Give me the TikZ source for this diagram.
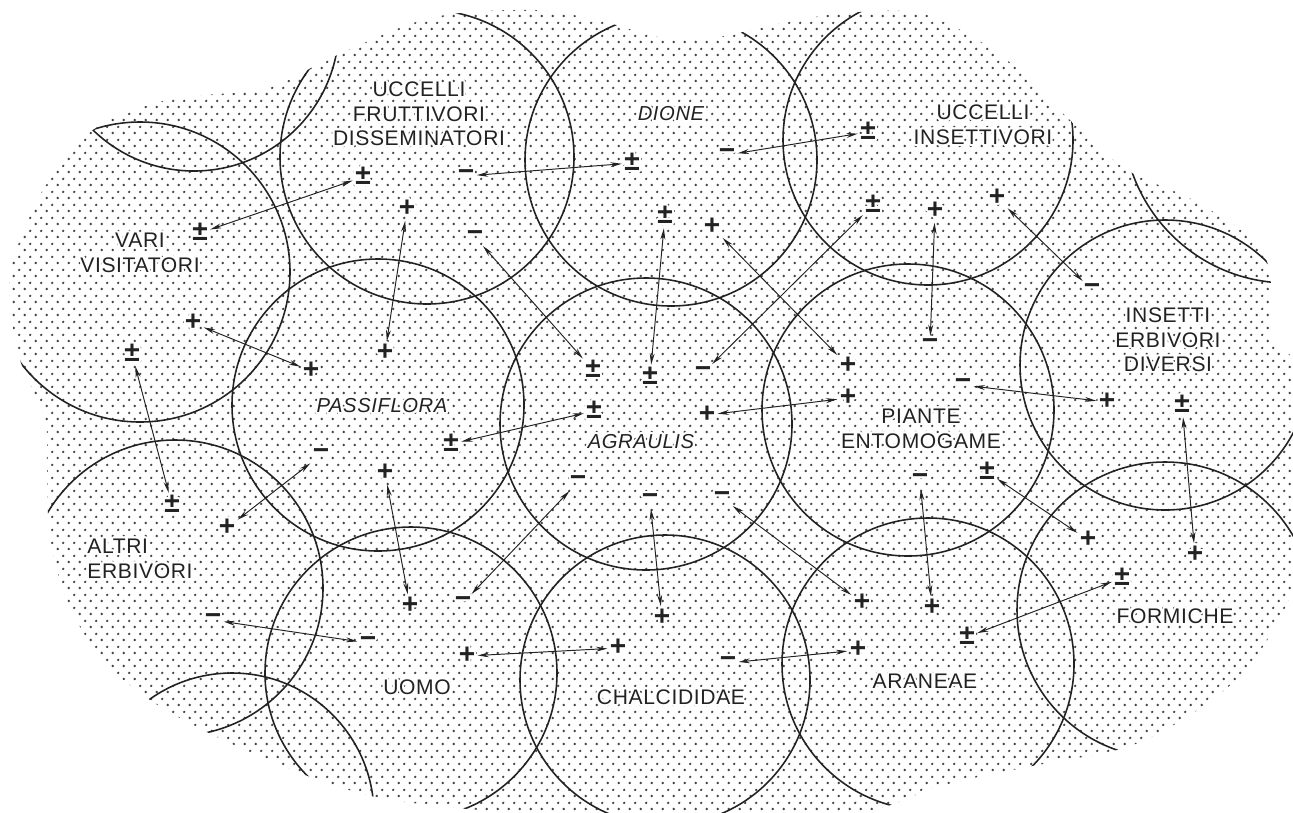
\documentclass[tikz,border=0pt]{standalone}
\usepackage{fontspec}
\setmainfont[LetterSpace=3]{Liberation Sans}
\newfontfamily\signfont{Liberation Sans}
\usepackage{contour}
\contourlength{1.2pt}
\contournumber{16}
\usepackage{tikz}
\usetikzlibrary{arrows.meta, patterns.meta}
\definecolor{ink}{HTML}{222222}
\definecolor{stip}{HTML}{444444}

% stippled ground: staggered rows of dots
\tikzdeclarepattern{
  name=stipple,
  type=uncolored,
  bottom left={(0pt,0pt)},
  top right={(6.24pt,7.14pt)},
  tile size={(6.24pt,7.14pt)},
  code={
    \pgfpathcircle{\pgfpoint{1.56pt}{1.785pt}}{0.76pt}
    \pgfpathcircle{\pgfpoint{4.68pt}{5.355pt}}{0.76pt}
    \pgfusepath{fill}
  }
}

\newcommand{\lbl}[1]{\contour{white}{#1}}
\newcommand{\sgp}{\contour{white}{+}}
\newcommand{\sgm}{\contour{white}{−}}
\newcommand{\sgb}{\contour{white}{±}}

% outline of the dotted region
\newcommand{\blob}{plot[smooth cycle, tension=0.55] coordinates {
  (13,260) (43,190) (93,130) (167,100) (267,88) (333,57) (430,18)
  (530,10) (597,20) (663,38) (713,38) (797,20) (860,12) (927,15)
  (1003,57) (1073,123) (1127,170) (1193,200) (1253,240) (1270,275)
  (1272,340) (1302,370) (1306,470) (1298,570) (1277,623) (1243,673)
  (1193,713) (1127,747) (1027,767) (940,786) (860,812) (700,816)
  (560,816) (430,805) (367,795) (300,773) (217,737) (150,700)
  (100,657) (67,600) (50,537) (47,470) (45,420) (20,360) (10,303)}}

\begin{document}
\begin{tikzpicture}[x=0.02cm, y=-0.02cm,
    ring/.style={ink, line width=0.9pt},
    link/.style={ink, line width=0.55pt, {Stealth[length=6.5pt,width=2.8pt]}-{Stealth[length=6.5pt,width=2.8pt]}},
    lab/.style={text=ink, align=center, inner sep=0pt, font=\fontsize{12}{14}\selectfont},
    labit/.style={lab, font=\fontsize{11.5}{14}\selectfont\itshape},
    sign/.style={text=ink, inner sep=1.2pt, font=\signfont\bfseries\fontsize{16}{16}\selectfont}]
  \useasboundingbox (0,0) rectangle (1293,812);
  \fill[pattern=stipple, pattern color=stip] \blob;

  % overlapping circles, cut off at the edge of the dots
  \begin{scope}
    \clip \blob;
    \foreach \cx/\cy/\r in {
      194/26/145, 140/272/150, 427/157/147, 671/160/146, 928/140/145,
      1288/118/165, 378/405/146, 646/424/146, 908/410/146, 1165/365/145,
      175/588/148, 411/673/146, 665/680/145, 928/664/146, 1165/610/148,
      232/815/142}{
      \draw[ring] (\cx,\cy) circle (\r);
    }
  \end{scope}

  % names of the partners
  \node[lab] (uccfrut) at (419,115) {\lbl{UCCELLI}\\\lbl{FRUTTIVORI}\\\lbl{DISSEMINATORI}};
  \node[labit] (dione) at (671,115) {\lbl{DIONE}};
  \node[lab] (uccins) at (983,126) {\lbl{UCCELLI}\\\lbl{INSETTIVORI}};
  \node[lab] (vari) at (140,254) {\lbl{VARI}\\\lbl{VISITATORI}};
  \node[labit] (passi) at (382,407) {\lbl{PASSIFLORA}};
  \node[labit] (agra) at (641,443) {\lbl{AGRAULIS}};
  \node[lab] (piante) at (921,430) {\lbl{PIANTE}\\\lbl{ENTOMOGAME}};
  \node[lab] (insetti) at (1168,341) {\lbl{INSETTI}\\\lbl{ERBIVORI}\\\lbl{DIVERSI}};
  \node[lab, align=left, anchor=west] (altri) at (87,560) {\lbl{ALTRI}\\\lbl{ERBIVORI}};
  \node[lab] (uomo) at (417,688) {\lbl{UOMO}};
  \node[lab] (chalc) at (671,698) {\lbl{CHALCIDIDAE}};
  \node[lab] (aran) at (925,682) {\lbl{ARANEAE}};
  \node[lab] (formi) at (1175,617) {\lbl{FORMICHE}};

  % interactions: p = +, m = -, b = +/-
  \foreach \n/\xa/\ya/\sa/\xb/\yb/\sb in {
    1/200/233/b/363/177/b,   2/407/209/p/385/353/p,   3/466/176/m/632/163/b,
    4/727/155/m/868/132/b,   5/475/237/m/593/370/b,   6/665/216/b/650/377/b,
    7/712/227/p/848/366/p,   8/873/205/b/703/373/m,   9/935/211/p/930/345/m,
    10/997/198/p/1092/290/m, 11/193/323/p/311/371/p,  12/132/354/b/172/505/b,
    13/451/444/b/594/411/b,  14/707/415/p/848/398/p,  15/963/385/m/1107/402/p,
    16/1182/405/b/1195/555/p, 17/987/472/b/1088/540/p, 18/920/480/m/932/608/p,
    19/967/637/b/1122/578/b, 20/722/498/m/862/603/p,  21/650/500/m/662/618/p,
    22/578/482/m/463/603/m,  23/321/455/m/227/528/p,  24/385/473/p/410/606/p,
    25/213/620/m/368/643/m,  26/467/656/p/618/648/p,  27/728/663/m/858/650/p}{
    \node[sign] (a\n) at (\xa,\ya) {\csname sg\sa\endcsname};
    \node[sign] (b\n) at (\xb,\yb) {\csname sg\sb\endcsname};
    \draw[link] (a\n) -- (b\n);
  }
\end{tikzpicture}
\end{document}
